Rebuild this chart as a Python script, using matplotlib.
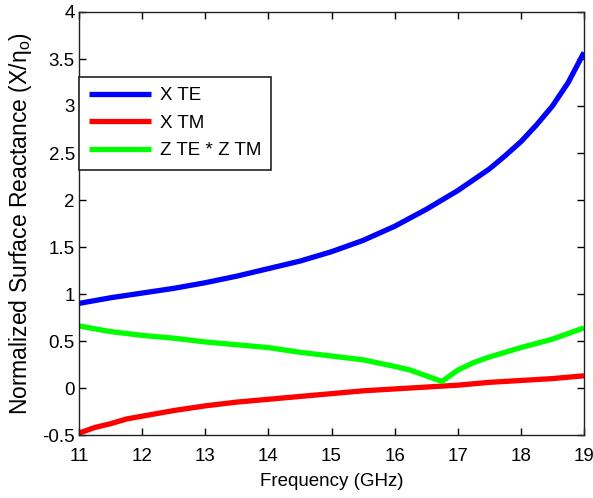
import matplotlib
matplotlib.use("Agg")
import matplotlib.pyplot as plt
import numpy as np

plt.rcParams['font.family'] = ['Liberation Sans', 'DejaVu Sans']
plt.rcParams['mathtext.default'] = 'regular'

freq_te = [11, 11.5, 12, 12.5, 13, 13.5, 14, 14.5, 15, 15.5, 16, 16.5, 17, 17.5, 17.75, 18, 18.25, 18.5, 18.75, 19]
x_te = [0.90, 0.96, 1.01, 1.06, 1.12, 1.19, 1.27, 1.35, 1.45, 1.57, 1.72, 1.90, 2.10, 2.33, 2.47, 2.62, 2.80, 3.00, 3.25, 3.57]

freq_tm = [11, 11.25, 11.5, 11.75, 12, 12.5, 13, 13.5, 14, 14.5, 15, 15.5, 16, 16.5, 17, 17.5, 18, 18.5, 19]
x_tm = [-0.48, -0.42, -0.38, -0.33, -0.30, -0.24, -0.19, -0.15, -0.12, -0.09, -0.06, -0.03, -0.01, 0.01, 0.03, 0.06, 0.08, 0.10, 0.13]

freq_z = [11, 11.5, 12, 12.5, 13, 13.5, 14, 14.5, 15, 15.5, 16, 16.25, 16.5, 16.75, 17, 17.25, 17.5, 18, 18.5, 19]
z_prod = [0.66, 0.60, 0.56, 0.53, 0.49, 0.46, 0.43, 0.38, 0.34, 0.30, 0.23, 0.19, 0.13, 0.07, 0.19, 0.27, 0.33, 0.43, 0.52, 0.64]

labels = ['X TE', 'X TM', 'Z TE * Z TM']
colors = ['#0000ff', '#ff0000', '#00ff00']

fig = plt.figure(figsize=(5.93, 4.98), dpi=100)
ax = fig.add_axes([79/593, 63/498, 505/593, 423/498])

lw = 3.8
ax.plot(freq_te, x_te, color=colors[0], lw=lw, label=labels[0], solid_capstyle='butt')
ax.plot(freq_tm, x_tm, color=colors[1], lw=lw, label=labels[1], solid_capstyle='butt')
ax.plot(freq_z, z_prod, color=colors[2], lw=lw, label=labels[2], solid_capstyle='butt')

ax.set_xlim(11, 19)
ax.set_ylim(-0.5, 4)
ax.set_xticks(np.arange(11, 20, 1))
ax.set_yticks(np.arange(-0.5, 4.01, 0.5))
ax.set_yticklabels(['-0.5', '0', '0.5', '1', '1.5', '2', '2.5', '3', '3.5', '4'])
ax.tick_params(direction='in', top=True, right=True, length=5, width=1, labelsize=13.5)
ax.tick_params(axis='x', pad=9)
ax.tick_params(axis='y', pad=3)
for s in ax.spines.values():
    s.set_linewidth(1)
    s.set_color('#222222')

ax.set_xlabel('Frequency (GHz)', fontsize=13.5, labelpad=6)
ax.set_ylabel('Normalized Surface Reactance (X/η$_o$)', fontsize=16.5, labelpad=6)

leg = ax.legend(loc='upper left', bbox_to_anchor=(0, (435-77)/423), fontsize=13.5,
                fancybox=False, framealpha=1, edgecolor='#222222', handlelength=3.3,
                borderpad=0.55, labelspacing=0.55, handletextpad=0.45, borderaxespad=0)
leg.get_frame().set_linewidth(1.2)

fig.savefig('out.png', dpi=100)
